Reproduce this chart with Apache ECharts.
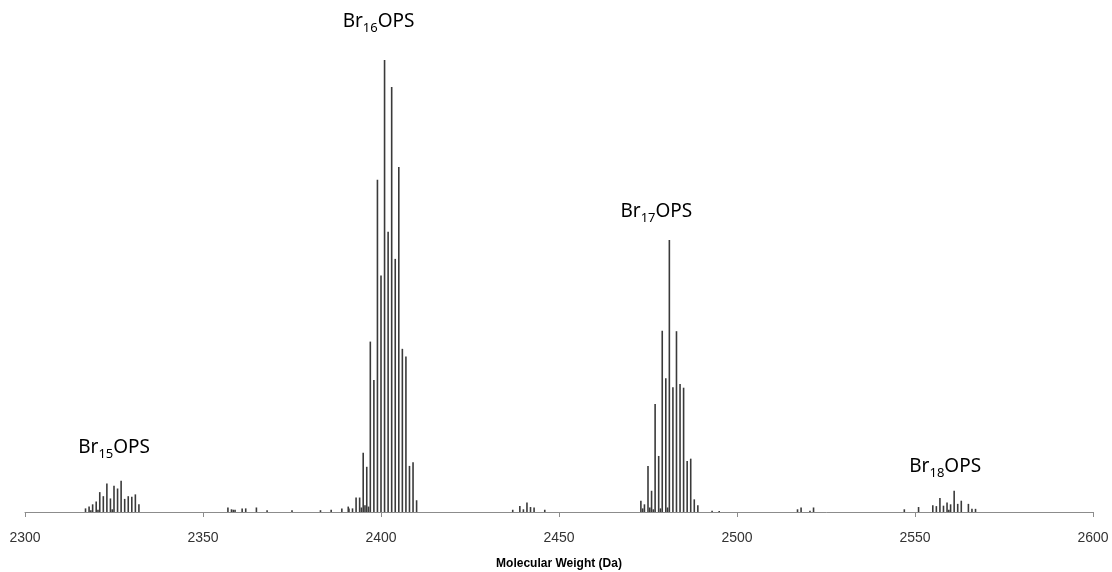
<!DOCTYPE html>
<html>
<head>
<meta charset="utf-8">
<script src="https://cdn.jsdelivr.net/npm/echarts@6/dist/echarts.min.js"></script>
<style>
  html, body { margin: 0; padding: 0; background: #fff; }
  #chart { width: 1112px; height: 572px; }
</style>
</head>
<body>
<div id="chart"></div>
<script>
// relative intensity (tallest peak = 100), masses in Da
var br15Mass = [2317, 2318, 2319, 2320, 2321, 2322, 2323, 2324, 2325, 2326, 2327, 2328, 2329, 2330, 2331, 2332];
var br15Int  = [0.8, 1.2, 1.7, 2.3, 4.4, 3.5, 6.3, 3.0, 5.8, 5.2, 6.9, 2.9, 3.5, 3.4, 3.9, 1.7];

var br16Mass = [2393, 2394, 2395, 2396, 2397, 2398, 2399, 2400, 2401, 2402, 2403, 2404, 2405, 2406, 2407, 2408, 2409, 2410];
var br16Int  = [3.2, 3.2, 13.1, 10.0, 37.7, 29.2, 73.5, 52.3, 100, 62.0, 94.0, 56.0, 76.3, 36.1, 34.4, 10.2, 11.0, 2.6];

var br17Mass = [2473, 2474, 2475, 2476, 2477, 2478, 2479, 2480, 2481, 2482, 2483, 2484, 2485, 2486, 2487, 2488, 2489];
var br17Int  = [2.5, 1.7, 10.2, 4.7, 23.9, 12.4, 40.1, 29.6, 60.2, 27.6, 40.0, 28.3, 27.5, 11.3, 11.8, 2.8, 1.5];

var br18Mass = [2555, 2556, 2557, 2558, 2559, 2560, 2561, 2562, 2563, 2565, 2566, 2567];
var br18Int  = [1.5, 1.3, 3.1, 1.4, 2.1, 1.7, 4.7, 1.8, 2.5, 1.8, 0.7, 0.7];

// small peaks outside / between the main clusters
var minorMass = [2318.5, 2320.5, 2324.5, 2357, 2358, 2358.5, 2359, 2361, 2362, 2365, 2368, 2375, 2383, 2386, 2389, 2390.8, 2391, 2392,
                 2394.5, 2395.5, 2396.5, 2437, 2439, 2440, 2441, 2442, 2443, 2446, 2473.5, 2475.5, 2476.5, 2478.5, 2480.5,
                 2493, 2495, 2517, 2518, 2520.5, 2521.5, 2547, 2551, 2559.5];
var minorInt  = [0.4, 0.5, 0.6, 1.0, 0.6, 0.5, 0.5, 0.8, 0.8, 1.0, 0.4, 0.4, 0.4, 0.5, 0.8, 1.2, 0.8, 0.8,
                 1.0, 1.5, 1.2, 0.5, 1.3, 0.6, 2.1, 1.1, 1.0, 0.5, 0.8, 1.0, 0.6, 0.8, 1.0,
                 0.3, 0.2, 0.6, 1.0, 0.3, 1.0, 0.6, 1.1, 0.5];

var clusterLabels = [
  { mass: 2327, sub: '15', distance: 20, dx: -7 },
  { mass: 2401, sub: '16', distance: 25, dx: -6 },
  { mass: 2481, sub: '17', distance: 15, dx: -13 },
  { mass: 2561, sub: '18', distance: 11, dx: -9 }
];

function pairs(ms, vs) {
  return ms.map(function (m, i) { return [m, vs[i]]; });
}

var peaks = [].concat(pairs(minorMass, minorInt), pairs(br15Mass, br15Int), pairs(br16Mass, br16Int),
                      pairs(br17Mass, br17Int), pairs(br18Mass, br18Int));

var data = peaks.map(function (p) {
  var lab = clusterLabels.filter(function (c) { return c.mass === p[0]; })[0];
  if (!lab) return { value: p };
  return {
    value: p,
    label: {
      show: true,
      position: 'top',
      distance: lab.distance,
      offset: [lab.dx, 0],
      formatter: '{a|Br}{s|' + lab.sub + '}{a|OPS}'
    }
  };
});

var chart = echarts.init(document.getElementById('chart'));
chart.setOption({
  animation: false,
  grid: { left: 25, right: 19, top: 60, bottom: 60, outerBoundsMode: 'none', containLabel: false },
  xAxis: {
    type: 'value',
    min: 2300,
    max: 2600,
    interval: 50,
    name: 'Molecular Weight (Da)',
    nameLocation: 'middle',
    nameGap: 46,
    nameTextStyle: { fontFamily: 'Liberation Sans', fontSize: 12, fontWeight: 'bold', color: '#000' },
    axisLine: { lineStyle: { color: '#8c8c8c', width: 1 } },
    axisTick: { show: true, inside: false, length: 5, lineStyle: { color: '#8c8c8c' } },
    axisLabel: {
      fontFamily: 'Liberation Sans', fontSize: 14, color: '#333', margin: 19,
      formatter: function (v) { return String(v); }
    },
    splitLine: { show: false }
  },
  yAxis: {
    type: 'value',
    min: 0,
    max: 100,
    show: false
  },
  series: [{
    type: 'bar',
    barWidth: 1.6,
    itemStyle: { color: '#3a3a3a' },
    label: {
      color: '#000',
      rich: {
        a: { fontFamily: 'Noto Sans', fontSize: 19, lineHeight: 26, color: '#000' },
        s: { fontFamily: 'Noto Sans', fontSize: 13, lineHeight: 13, verticalAlign: 'bottom', color: '#000' }
      }
    },
    data: data
  }]
});
</script>
</body>
</html>
